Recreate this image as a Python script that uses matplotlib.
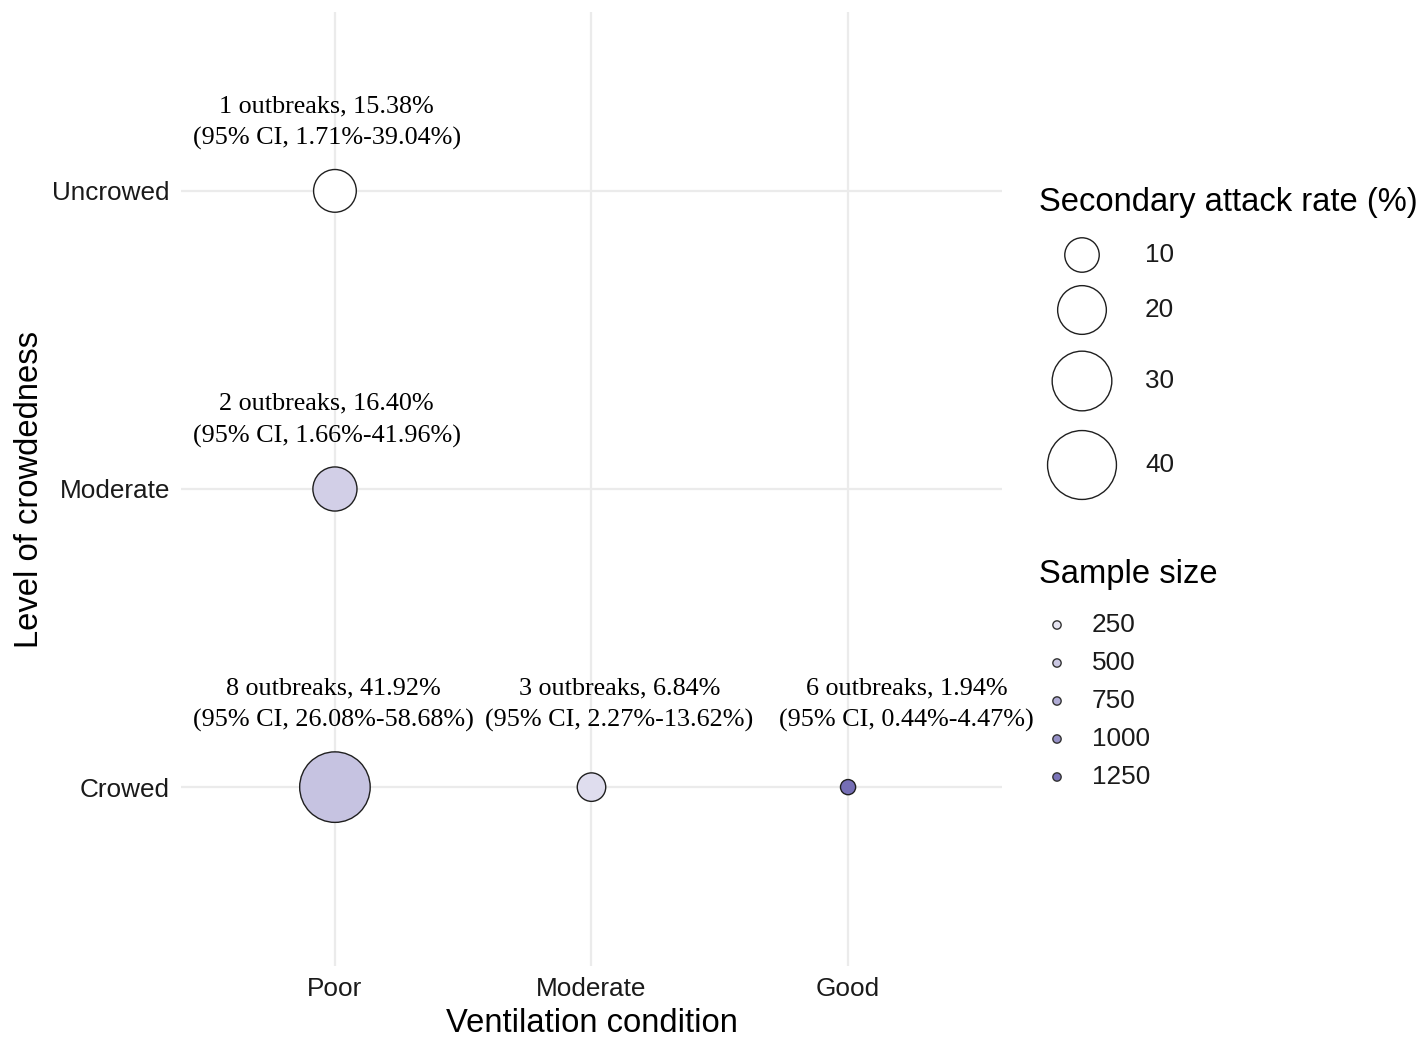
import matplotlib
matplotlib.use("Agg")
import matplotlib.pyplot as plt
from matplotlib.colors import LinearSegmentedColormap, Normalize

# --- data -------------------------------------------------------------
ventilation_levels = ["Poor", "Moderate", "Good"]
crowd_levels = ["Crowed", "Moderate", "Uncrowed"]

point_ventilation = ["Poor", "Poor", "Poor", "Moderate", "Good"]
point_crowd = ["Uncrowed", "Moderate", "Crowed", "Crowed", "Crowed"]
attack_rate = [15.38, 16.40, 41.92, 6.84, 1.94]          # secondary attack rate (%)
sample_size = [13, 440, 545, 310, 1300]                  # number of contacts
outbreaks = [1, 2, 8, 3, 6]
ci_low = [1.71, 1.66, 26.08, 2.27, 0.44]
ci_high = [39.04, 41.96, 58.68, 13.62, 4.47]

size_breaks = [10, 20, 30, 40]
color_breaks = [250, 500, 750, 1000, 1250]

# --- styling ----------------------------------------------------------
W, H = 1427, 1037
SIZE_K = 61.5            # marker area (pt^2) per percentage point
cmap = LinearSegmentedColormap.from_list("sz", ["#ffffff", "#756eb5"])
norm = Normalize(vmin=min(sample_size), vmax=max(sample_size))
edge = "#1f1f1f"
grid_col = "#ebebeb"
sans = "Liberation Sans"
serif = "Liberation Serif"
# horizontal shift (points) keeping neighbouring labels apart
label_shift = [-6, -6, -1, 20, 42]

fig = plt.figure(figsize=(W / 100, H / 100), dpi=100)
ax = fig.add_axes([181 / W, (H - 966) / H, (1002 - 181) / W, (966 - 12) / H])

xs = [ventilation_levels.index(v) + 1 for v in point_ventilation]
ys = [crowd_levels.index(c) + 1 for c in point_crowd]
sizes = [SIZE_K * r for r in attack_rate]

ax.scatter(xs, ys, s=sizes, c=sample_size, cmap=cmap, norm=norm,
           edgecolors=edge, linewidths=1.0, zorder=3)

ax.set_xlim(0.4, 3.6)
ax.set_ylim(0.4, 3.6)
ax.set_xticks(range(1, 4), ventilation_levels)
ax.set_yticks(range(1, 4), crowd_levels)
ax.grid(True, color=grid_col, linewidth=1.6, zorder=0)
ax.set_axisbelow(True)
for sp in ax.spines.values():
    sp.set_visible(False)
ax.tick_params(length=0, labelsize=18.8, labelcolor="#1a1a1a", pad=8)
for lab in ax.get_xticklabels() + ax.get_yticklabels():
    lab.set_family(sans)
ax.set_xlabel("Ventilation condition", fontsize=23.6, family=sans, labelpad=5)
ax.set_ylabel("Level of crowdedness", fontsize=23.6, family=sans, labelpad=5)

# annotations: offset each row above its largest bubble
row_radius = {}
for y, s in zip(ys, sizes):
    r = (s ** 0.5) / 2
    row_radius[y] = max(row_radius.get(y, 0), r)

for x, y, n, r, lo, hi, dx in zip(xs, ys, outbreaks, attack_rate, ci_low,
                                  ci_high, label_shift):
    txt = f"{n} outbreaks, {r:.2f}%\n(95% CI, {lo:.2f}%-{hi:.2f}%)"
    ax.annotate(txt, xy=(x, y), xytext=(dx, row_radius[y] + 14),
                textcoords="offset points", ha="center", va="bottom",
                fontsize=18.8, family=serif, linespacing=1.55, zorder=4)

# --- legends (drawn in pixel space) ----------------------------------
lg = fig.add_axes([0, 0, 1, 1], facecolor="none")
lg.set_xlim(0, W)
lg.set_ylim(H, 0)
lg.axis("off")

lg.text(1039, 202, "Secondary attack rate (%)", fontsize=23.6, family=sans,
        va="center", ha="left")
size_y = [255, 310, 381, 465]
lg.scatter([1082] * len(size_breaks), size_y, s=[SIZE_K * v for v in size_breaks],
           facecolors="white", edgecolors=edge, linewidths=1.0)
for yy, v in zip(size_y, size_breaks):
    lg.text(1145, yy, str(v), fontsize=18.8, family=sans, va="center", ha="left",
            color="#1a1a1a")

lg.text(1039, 575, "Sample size", fontsize=23.6, family=sans, va="center", ha="left")
col_y = [625, 663, 701, 739, 777]
lg.scatter([1057] * len(color_breaks), col_y, s=36, c=color_breaks, cmap=cmap,
           norm=norm, edgecolors="#333333", linewidths=1.0)
for yy, v in zip(col_y, color_breaks):
    lg.text(1092, yy, str(v), fontsize=18.8, family=sans, va="center", ha="left",
            color="#1a1a1a")

fig.savefig("out.png", dpi=100, facecolor="white")
